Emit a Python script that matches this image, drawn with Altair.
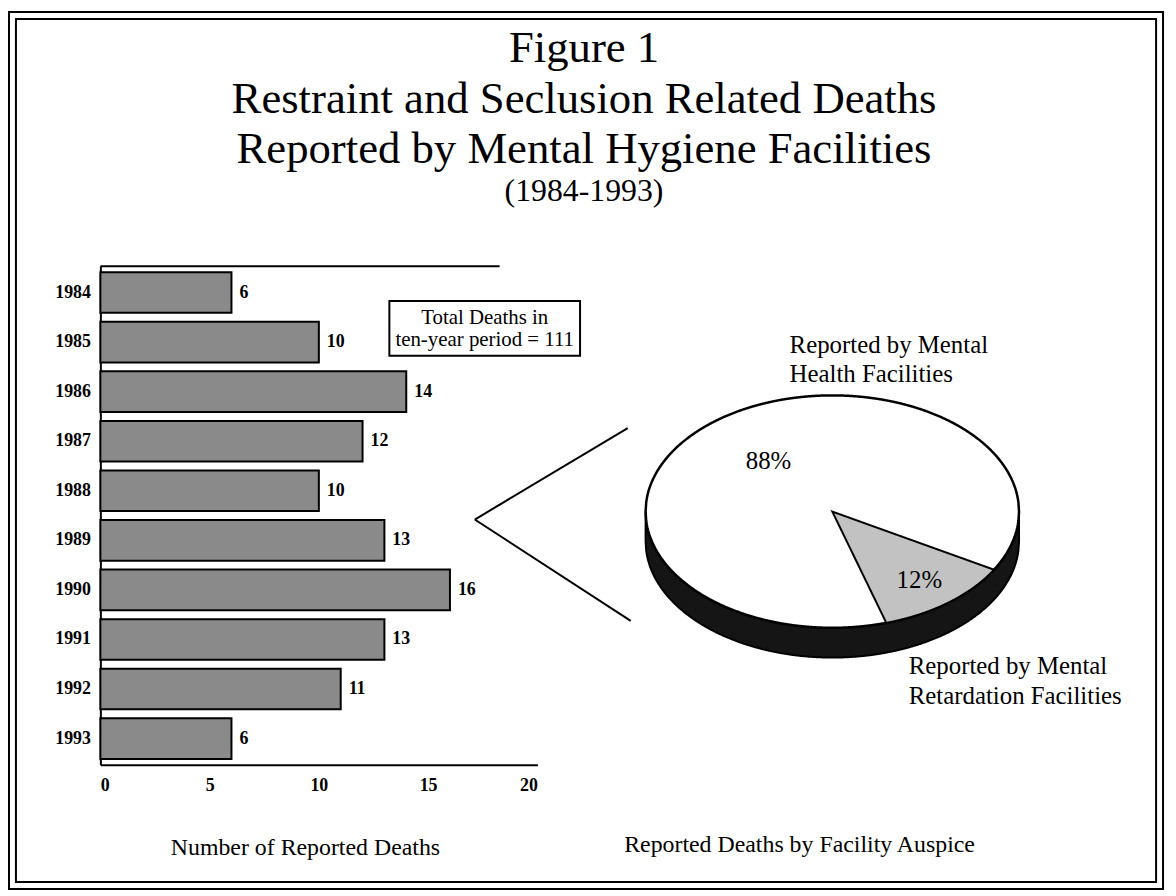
import altair as alt
import numpy as np
import pandas as pd

# ---------------- data ----------------
YEARS = [1984, 1985, 1986, 1987, 1988, 1989, 1990, 1991, 1992, 1993]
DEATHS = [6, 10, 14, 12, 10, 13, 16, 13, 11, 6]
X_TICKS = [0, 5, 10, 15, 20]
FACILITY = ["Mental Health", "Mental Retardation"]
SHARE = [88, 12]
TITLE_LINES = ["Figure 1", "Restraint and Seclusion Related Deaths",
               "Reported by Mental Hygiene Facilities"]
SUBTITLE = "(1984-1993)"
BOX_TEXT = ["Total Deaths in", "ten-year period = 111"]
MH_LABEL = ["Reported by Mental", "Health Facilities"]
MR_LABEL = ["Reported by Mental", "Retardation Facilities"]

# ---------------- layout / style ----------------
W, H = 1168, 888
SERIF = "Liberation Serif"
BAR_FILL = "#8a8a8a"
WEDGE_FILL = "#c2c2c2"
PIE_CX, PIE_CY, PIE_RX, PIE_RY, PIE_DEPTH = 830, 504, 188, 117, 30
MR_START_DEG = 30  # retardation slice starts this far below the horizontal

dummy = pd.DataFrame({"k": [0]})


def label(text, x, y, size, align="center", weight="normal"):
    return alt.Chart(dummy).mark_text(
        font=SERIF, fontSize=size, align=align, baseline="middle",
        color="black", fontWeight=weight).encode(
        x=alt.value(x), y=alt.value(y), text=alt.value(text))


def rule(x, y, x2, y2, width=2):
    return alt.Chart(dummy).mark_rule(color="black", strokeWidth=width).encode(
        x=alt.value(x), y=alt.value(y), x2=alt.value(x2), y2=alt.value(y2))


def frame(x, y, x2, y2):
    return alt.Chart(dummy).mark_rect(fillOpacity=0, stroke="black", strokeWidth=2).encode(
        x=alt.value(x), y=alt.value(y), x2=alt.value(x2), y2=alt.value(y2))


# ---------------- bar chart ----------------
bars_df = pd.DataFrame({"year": YEARS, "deaths": DEATHS})

x_bar = alt.X(
    "deaths:Q",
    scale=alt.Scale(domain=[0, 20], range=[93, 533], nice=False),
    axis=alt.Axis(values=X_TICKS, ticks=False, grid=False, domainColor="black",
                  domainWidth=2, labelFont=SERIF, labelFontWeight="bold",
                  labelFontSize=18, labelColor="black", labelPadding=12,
                  offset=-129, title="Number of Reported Deaths", titleFont=SERIF,
                  titleFontSize=24, titleFontWeight="normal", titleColor="black",
                  titleX=299, titleY=83, titleAlign="center", titleBaseline="middle"),
)
y_bar = alt.Y(
    "year:O",
    scale=alt.Scale(range=[257, 759], paddingInner=0.18, paddingOuter=0.12),
    axis=alt.Axis(ticks=False, grid=False, domainColor="black", domainWidth=2,
                  labelFont=SERIF, labelFontWeight="bold", labelFontSize=18,
                  labelColor="black", labelPadding=10, offset=-93, title=None),
)

bars = alt.Chart(bars_df).mark_bar(fill=BAR_FILL, stroke="black", strokeWidth=2).encode(
    x=x_bar, y=y_bar)
bar_labels = alt.Chart(bars_df).mark_text(
    align="left", baseline="middle", dx=8, font=SERIF, fontWeight="bold",
    fontSize=18, color="black").encode(x=x_bar, y=y_bar, text="deaths:Q")
bar_layer = alt.layer(bars, bar_labels)

# ---------------- elliptical 3-D pie ----------------
total = sum(SHARE)
span = np.deg2rad(360 * SHARE[1] / total)
a1 = np.deg2rad(MR_START_DEG)
a2 = a1 + span

xs = np.linspace(-1, 1, 601)
half = np.sqrt(np.clip(1 - xs ** 2, 0, None))
depth = PIE_DEPTH / PIE_RY
top_df = pd.DataFrame({"px": xs, "py": half, "py2": -half})
side_df = pd.DataFrame({"px": xs, "py": -half, "py2": -half - depth})

wx = np.linspace(0, np.cos(a1), 400)
w_upper = -wx * np.tan(a1)
w_lower = np.maximum(-wx * np.tan(a2), -np.sqrt(np.clip(1 - wx ** 2, 0, None)))
wedge_df = pd.DataFrame({"px": wx, "py": w_upper, "py2": w_lower})

mid_mr = (a1 + a2) / 2
mid_mh = mid_mr + np.pi
lab_df = pd.DataFrame({
    "facility": FACILITY,
    "share": SHARE,
    "px": [0.55 * np.cos(mid_mh), 0.75 * np.cos(mid_mr)],
    "py": [-0.55 * np.sin(mid_mh), -0.75 * np.sin(mid_mr)],
})
lab_df["txt"] = lab_df["share"].astype(str) + "%"

px = alt.X("px:Q", scale=alt.Scale(domain=[-1, 1], range=[PIE_CX - PIE_RX, PIE_CX + PIE_RX],
                                   nice=False, zero=False), axis=None)
py = alt.Y("py:Q", scale=alt.Scale(domain=[-1, 1], range=[PIE_CY + PIE_RY, PIE_CY - PIE_RY],
                                   nice=False, zero=False), axis=None)

side = alt.Chart(side_df).mark_area(fill="#151515", stroke="black", strokeWidth=2).encode(
    x=px, y=py, y2="py2:Q")
top = alt.Chart(top_df).mark_area(fill="white", stroke="black", strokeWidth=2.5).encode(
    x=px, y=py, y2="py2:Q")
wedge = alt.Chart(wedge_df).mark_area(fill=WEDGE_FILL, stroke="black", strokeWidth=2).encode(
    x=px, y=py, y2="py2:Q")
pie_labels = alt.Chart(lab_df).mark_text(font=SERIF, fontSize=25, color="black",
                                         baseline="middle").encode(x=px, y=py, text="txt:N")
pie_layer = alt.layer(side, top, wedge, pie_labels)

# ---------------- annotations ----------------
titles = [label(TITLE_LINES[0], 580, 37, 45),
          label(TITLE_LINES[1], 580, 89, 45),
          label(TITLE_LINES[2], 580, 139, 45),
          label(SUBTITLE, 580, 181, 32)]

box = alt.Chart(dummy).mark_rect(fill="white", stroke="black", strokeWidth=2).encode(
    x=alt.value(384), x2=alt.value(576), y=alt.value(292), y2=alt.value(347))
box_texts = [label(BOX_TEXT[0], 480, 309, 21), label(BOX_TEXT[1], 480, 331, 21)]

decor = [
    frame(1, 1, 1163, 884),
    frame(8, 8, 1156, 877),
    rule(93, 257, 495, 257),
    rule(624, 420, 470, 512),
    rule(470, 512, 627, 614),
]
texts = [
    label(MH_LABEL[0], 787, 336, 25, align="left"),
    label(MH_LABEL[1], 787, 366, 25, align="left"),
    label(MR_LABEL[0], 907, 660, 25, align="left"),
    label(MR_LABEL[1], 907, 690, 25, align="left"),
    label("Reported Deaths by Facility Auspice", 797, 840, 24),
]

chart = alt.layer(
    *decor, *titles, bar_layer, box, *box_texts, pie_layer, *texts
).resolve_scale(x="independent", y="independent").properties(
    width=W, height=H, autosize=alt.AutoSizeParams(type="none"), padding=0,
    background="white"
).configure_view(stroke=None)

chart.save("out.html", embed_options={"renderer": "svg", "actions": False})
